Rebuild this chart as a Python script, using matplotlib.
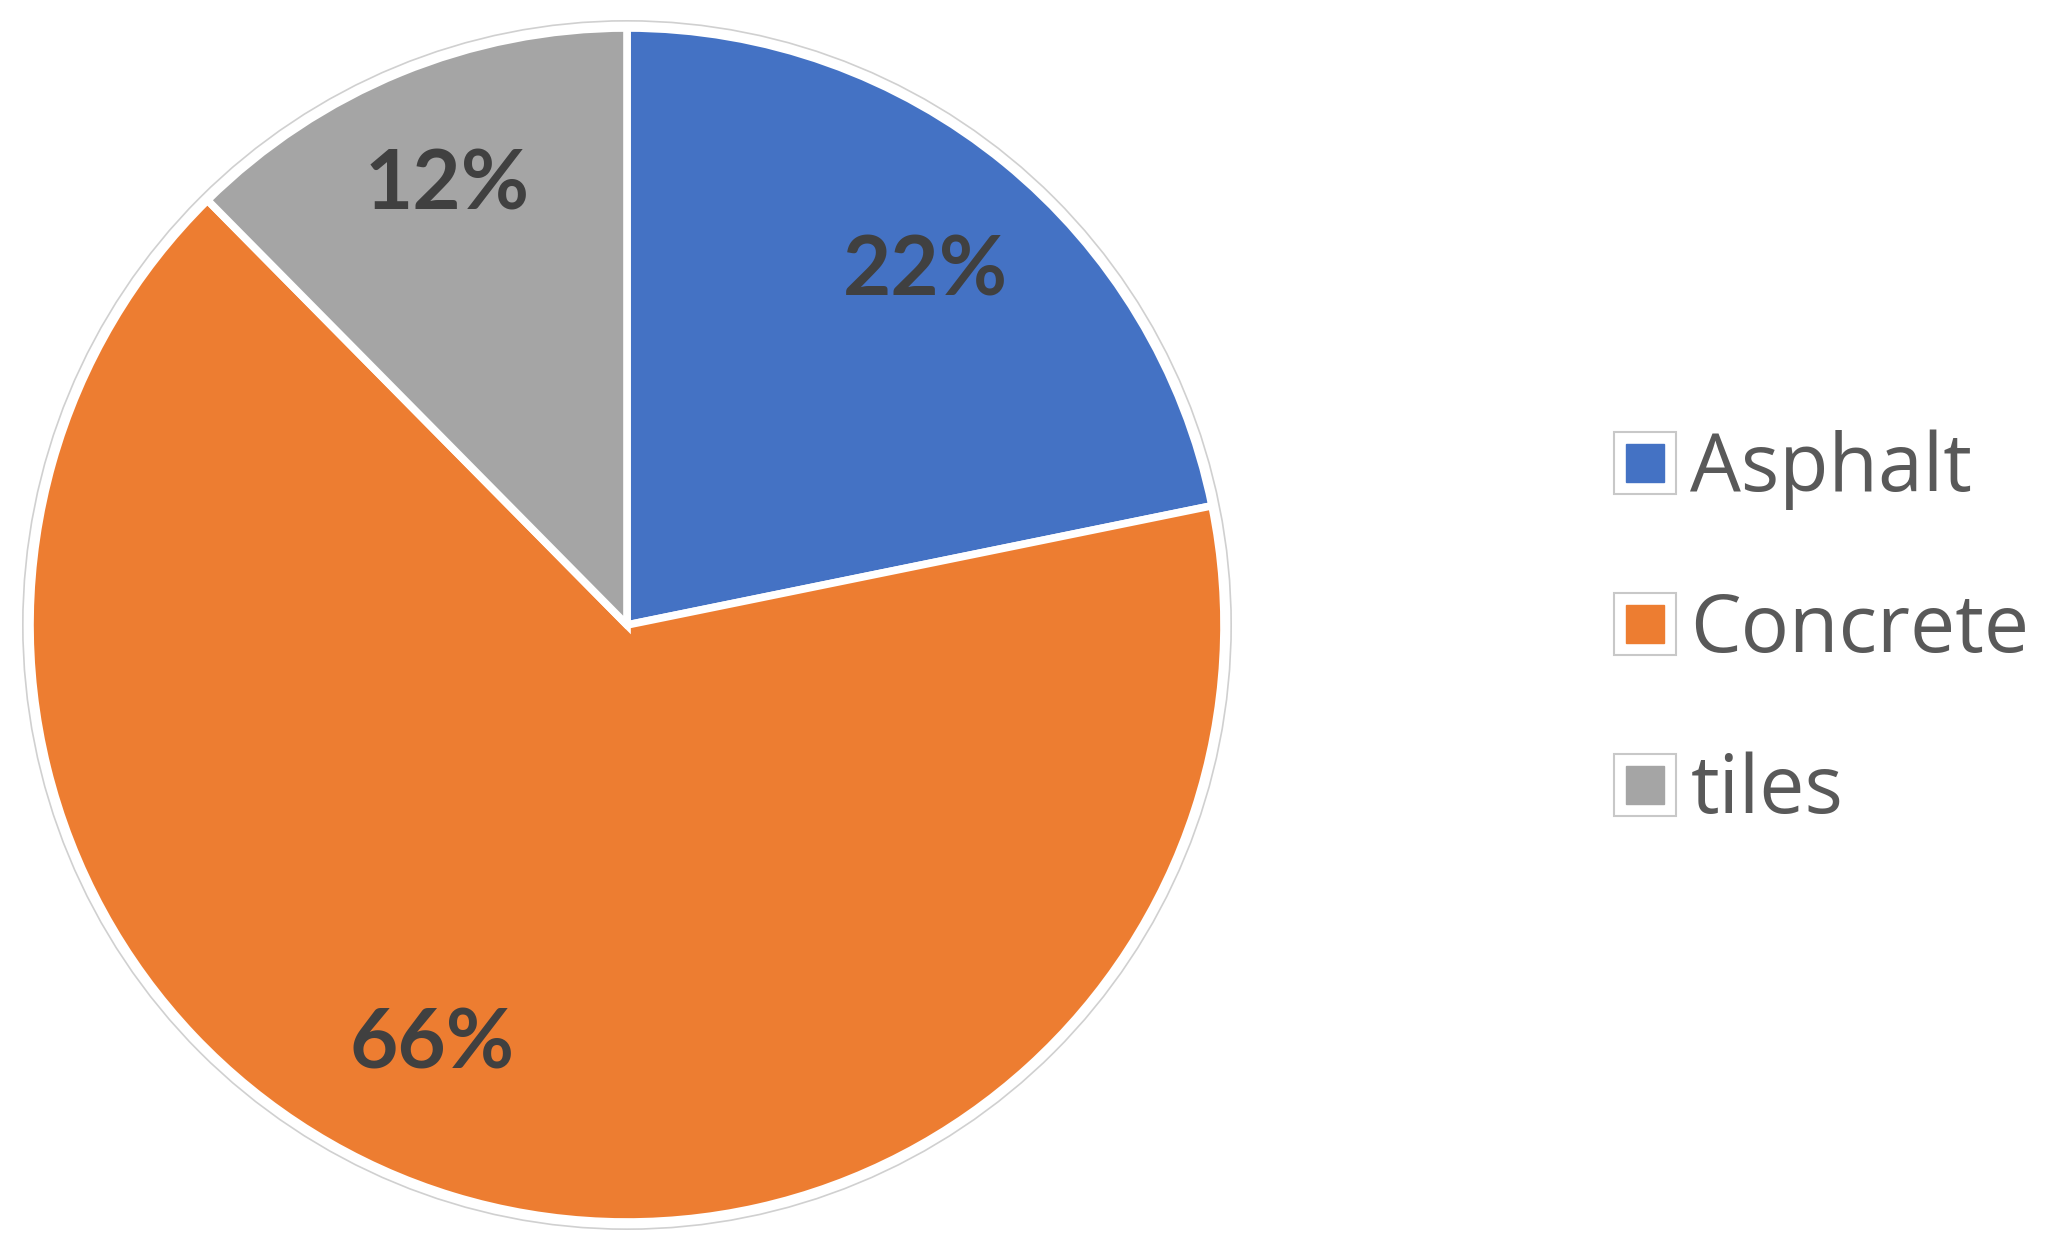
import numpy as np
import matplotlib
matplotlib.use("Agg")
import matplotlib.pyplot as plt
from matplotlib.lines import Line2D
from matplotlib.patches import Circle
from matplotlib.legend_handler import HandlerTuple

categories = ["Asphalt", "Concrete", "tiles"]
values = [21.8, 65.8, 12.4]
colors = ["#4472C4", "#ED7D31", "#A5A5A5"]

# label placement styling (radius fraction, angle offset in degrees)
label_r = [0.775, 0.775, 0.795]
label_dang = [-1.0, -8.0, 0.0]

W, H = 2058, 1242
fig = plt.figure(figsize=(W / 100, H / 100), dpi=100)
fig.patch.set_facecolor("white")

cx, cy, r = 627, 625, 597
half = 620
ax = fig.add_axes([(cx - half) / W, (H - cy - half) / H, 2 * half / W, 2 * half / H])
lim = half / r

wedges, texts, autotexts = ax.pie(
    values, colors=colors, startangle=90, counterclock=False,
    autopct=lambda p: f"{p:.0f}%", pctdistance=0.78, radius=1.0,
    wedgeprops=dict(edgecolor="white", linewidth=5.5),
    textprops=dict(fontsize=60, fontweight="bold", color="#404040", family="Lato"),
)
for w, t, rr, da in zip(wedges, autotexts, label_r, label_dang):
    ang = np.deg2rad((w.theta1 + w.theta2) / 2 + da)
    t.set_position((rr * np.cos(ang), rr * np.sin(ang)))

ax.set_xlim(-lim, lim)
ax.set_ylim(-lim, lim)
ax.set_aspect("equal")
ax.axis("off")
ax.add_patch(Circle((0, 0), 1.012, fill=False, edgecolor="#D0D0D0", linewidth=1.2))

handles = []
for c in colors:
    outer = Line2D([], [], marker="s", linestyle="none", markersize=44,
                   markerfacecolor="white", markeredgecolor="#C8C8C8", markeredgewidth=1.5)
    inner = Line2D([], [], marker="s", linestyle="none", markersize=28,
                   markerfacecolor=c, markeredgecolor=c)
    handles.append((outer, inner))

fs = 58
leg = fig.legend(handles, categories, loc="center left",
                 bbox_to_anchor=(1609 / W, 1 - 631 / H),
                 handler_map={tuple: HandlerTuple(ndivide=1, pad=0)},
                 frameon=False, labelcolor="#595959",
                 prop=dict(family="Open Sans", size=fs),
                 handlelength=0.89, handletextpad=0.12, labelspacing=1.0,
                 borderpad=0, borderaxespad=0)

fig.savefig("out.png", dpi=100, facecolor="white")
